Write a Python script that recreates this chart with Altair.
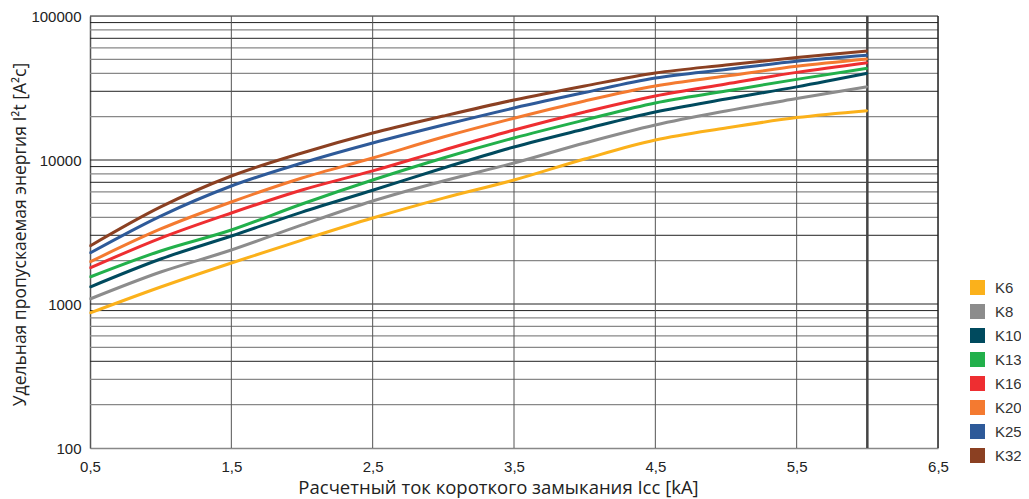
import altair as alt
import pandas as pd

# ---- data ----
currents = [0.5, 1.0, 1.5, 2.0, 2.5, 3.0, 3.5, 4.0, 4.5, 5.0, 5.5, 6.0]
series_names = ["K6", "K8", "K10", "K13", "K16", "K20", "K25", "K32"]
K6 = [866, 1312, 1927, 2780, 3955, 5440, 7260, 10160, 13760, 16680, 19700, 22000]
K8 = [1083, 1667, 2371, 3540, 5190, 7150, 9530, 13120, 17500, 21900, 26700, 32300]
K10 = [1312, 2054, 2966, 4350, 6170, 8800, 12310, 16400, 21540, 26500, 32200, 40000]
K13 = [1540, 2335, 3266, 4950, 7260, 10330, 14220, 18950, 24900, 30100, 36300, 43300]
K16 = [1778, 2870, 4285, 6190, 8400, 11720, 16150, 21540, 27830, 33700, 40600, 47400]
K20 = [1958, 3318, 5110, 7500, 10330, 14450, 19500, 25700, 32660, 38300, 44700, 50250]
K25 = [2260, 4080, 6600, 9530, 13120, 17500, 22970, 29400, 37070, 42500, 48500, 53300]
K32 = [2528, 4720, 7740, 11190, 15400, 20200, 26100, 32660, 40200, 45700, 51500, 57100]
series_values = [K6, K8, K10, K13, K16, K20, K25, K32]
series_colors = ["#FBB11B", "#8C8C8C", "#004A5E", "#22B04B", "#EE2E31", "#F47A30", "#2E5A99", "#8B4022"]

x_ticks = [0.5, 1.5, 2.5, 3.5, 4.5, 5.5, 6.5]
y_ticks = [100, 1000, 10000, 100000]
x_grid = [1.5, 2.5, 3.5, 4.5, 5.5]
x_right = [6.5]
x_limit = [6.0]
y_grid_dark = [90000, 70000, 30000, 10000, 9000, 7000, 3000, 1000, 900, 400]
y_grid_light = [80000, 60000, 50000, 40000, 20000, 8000, 6000, 5000, 4000, 2000,
                800, 700, 600, 500, 300, 200]
y_top = [100000]

rows = []
for name, vals in zip(series_names, series_values):
    for xv, yv in zip(currents, vals):
        rows.append({"x": xv, "y": yv, "series": name})
df = pd.DataFrame(rows)

FONT = "Liberation Sans"
TITLE_FONT = "Open Sans"

x_scale = alt.Scale(domain=[0.5, 6.5], nice=False, zero=False)
y_scale = alt.Scale(type="log", domain=[100, 100000], nice=False)
color_scale = alt.Scale(domain=series_names, range=series_colors)

x_axis = alt.Axis(
    values=x_ticks,
    labelExpr="replace(format(datum.value, '.1f'), '.', ',')",
    title="Расчетный ток короткого замыкания Icc [kA]",
    grid=False,
    ticks=False,
    labelFlush=False,
    labelPadding=11,
    labelFontSize=15,
    labelColor="#222222",
    titleFontSize=18.5,
    titleFontWeight="normal",
    titleColor="#222222",
    titleX=408,
    titleY=30,
    titleBaseline="top",
    domainColor="#888888",
    domainWidth=1.5,
    labelFont=FONT,
    titleFont=TITLE_FONT,
)
y_axis = alt.Axis(
    values=y_ticks,
    format="d",
    title="Удельная пропускаемая энергия I²t [А²с]",
    grid=False,
    ticks=False,
    labelFlush=False,
    labelPadding=9,
    labelFontSize=15,
    labelColor="#222222",
    titleFontSize=17.5,
    titleFontWeight="normal",
    titleColor="#222222",
    titleX=-61,
    titleY=218,
    titleAlign="center",
    titleBaseline="bottom",
    domainColor="#555555",
    domainWidth=1.5,
    labelFont=FONT,
    titleFont=TITLE_FONT,
)

hdark = alt.Chart(pd.DataFrame({"v": y_grid_dark + y_top})).mark_rule(
    color="#222222", strokeWidth=1
).encode(y=alt.Y("v:Q", scale=y_scale, axis=y_axis))
hlight = alt.Chart(pd.DataFrame({"v": y_grid_light})).mark_rule(
    color="#888888", strokeWidth=1.2
).encode(y=alt.Y("v:Q", scale=y_scale, axis=y_axis))
vgrid = alt.Chart(pd.DataFrame({"v": x_grid})).mark_rule(
    color="#555555", strokeWidth=1
).encode(x=alt.X("v:Q", scale=x_scale, axis=x_axis))
right_border = alt.Chart(pd.DataFrame({"v": x_right})).mark_rule(
    color="#222222", strokeWidth=1.5
).encode(x=alt.X("v:Q", scale=x_scale, axis=x_axis))
vlimit = alt.Chart(pd.DataFrame({"v": x_limit})).mark_rule(
    color="#444444", strokeWidth=2.5
).encode(x=alt.X("v:Q", scale=x_scale, axis=x_axis))

# small squares under the lines, carrying the filled-square legend
legend_marks = alt.Chart(df).mark_square(size=2, filled=True, opacity=1).encode(
    x=alt.X("x:Q", scale=x_scale, axis=x_axis),
    y=alt.Y("y:Q", scale=y_scale, axis=y_axis),
    fill=alt.Fill(
        "series:N",
        scale=color_scale,
        sort=series_names,
        legend=alt.Legend(
            title=None,
            orient="none",
            legendX=880,
            legendY=264,
            symbolType="square",
            symbolSize=225,
            symbolStrokeWidth=0,
            symbolOpacity=1,
            rowPadding=8,
            labelFontSize=15,
            labelFont=FONT,
            labelColor="#333333",
            labelOffset=10,
        ),
    ),
)

lines = alt.Chart(df).mark_line(strokeWidth=3, interpolate="monotone").encode(
    x=alt.X("x:Q", scale=x_scale, axis=x_axis),
    y=alt.Y("y:Q", scale=y_scale, axis=y_axis),
    color=alt.Color("series:N", scale=color_scale, sort=series_names, legend=None),
)

chart = alt.layer(hlight, hdark, vgrid, right_border, vlimit, legend_marks, lines).properties(
    width=848,
    height=432,
    autosize=alt.AutoSizeParams(type="none"),
    padding={"left": 82, "top": 8, "right": 83, "bottom": 51},
).configure_view(stroke=None).configure(font=FONT)

chart.save("out.html", embed_options={"renderer": "svg", "actions": False})
